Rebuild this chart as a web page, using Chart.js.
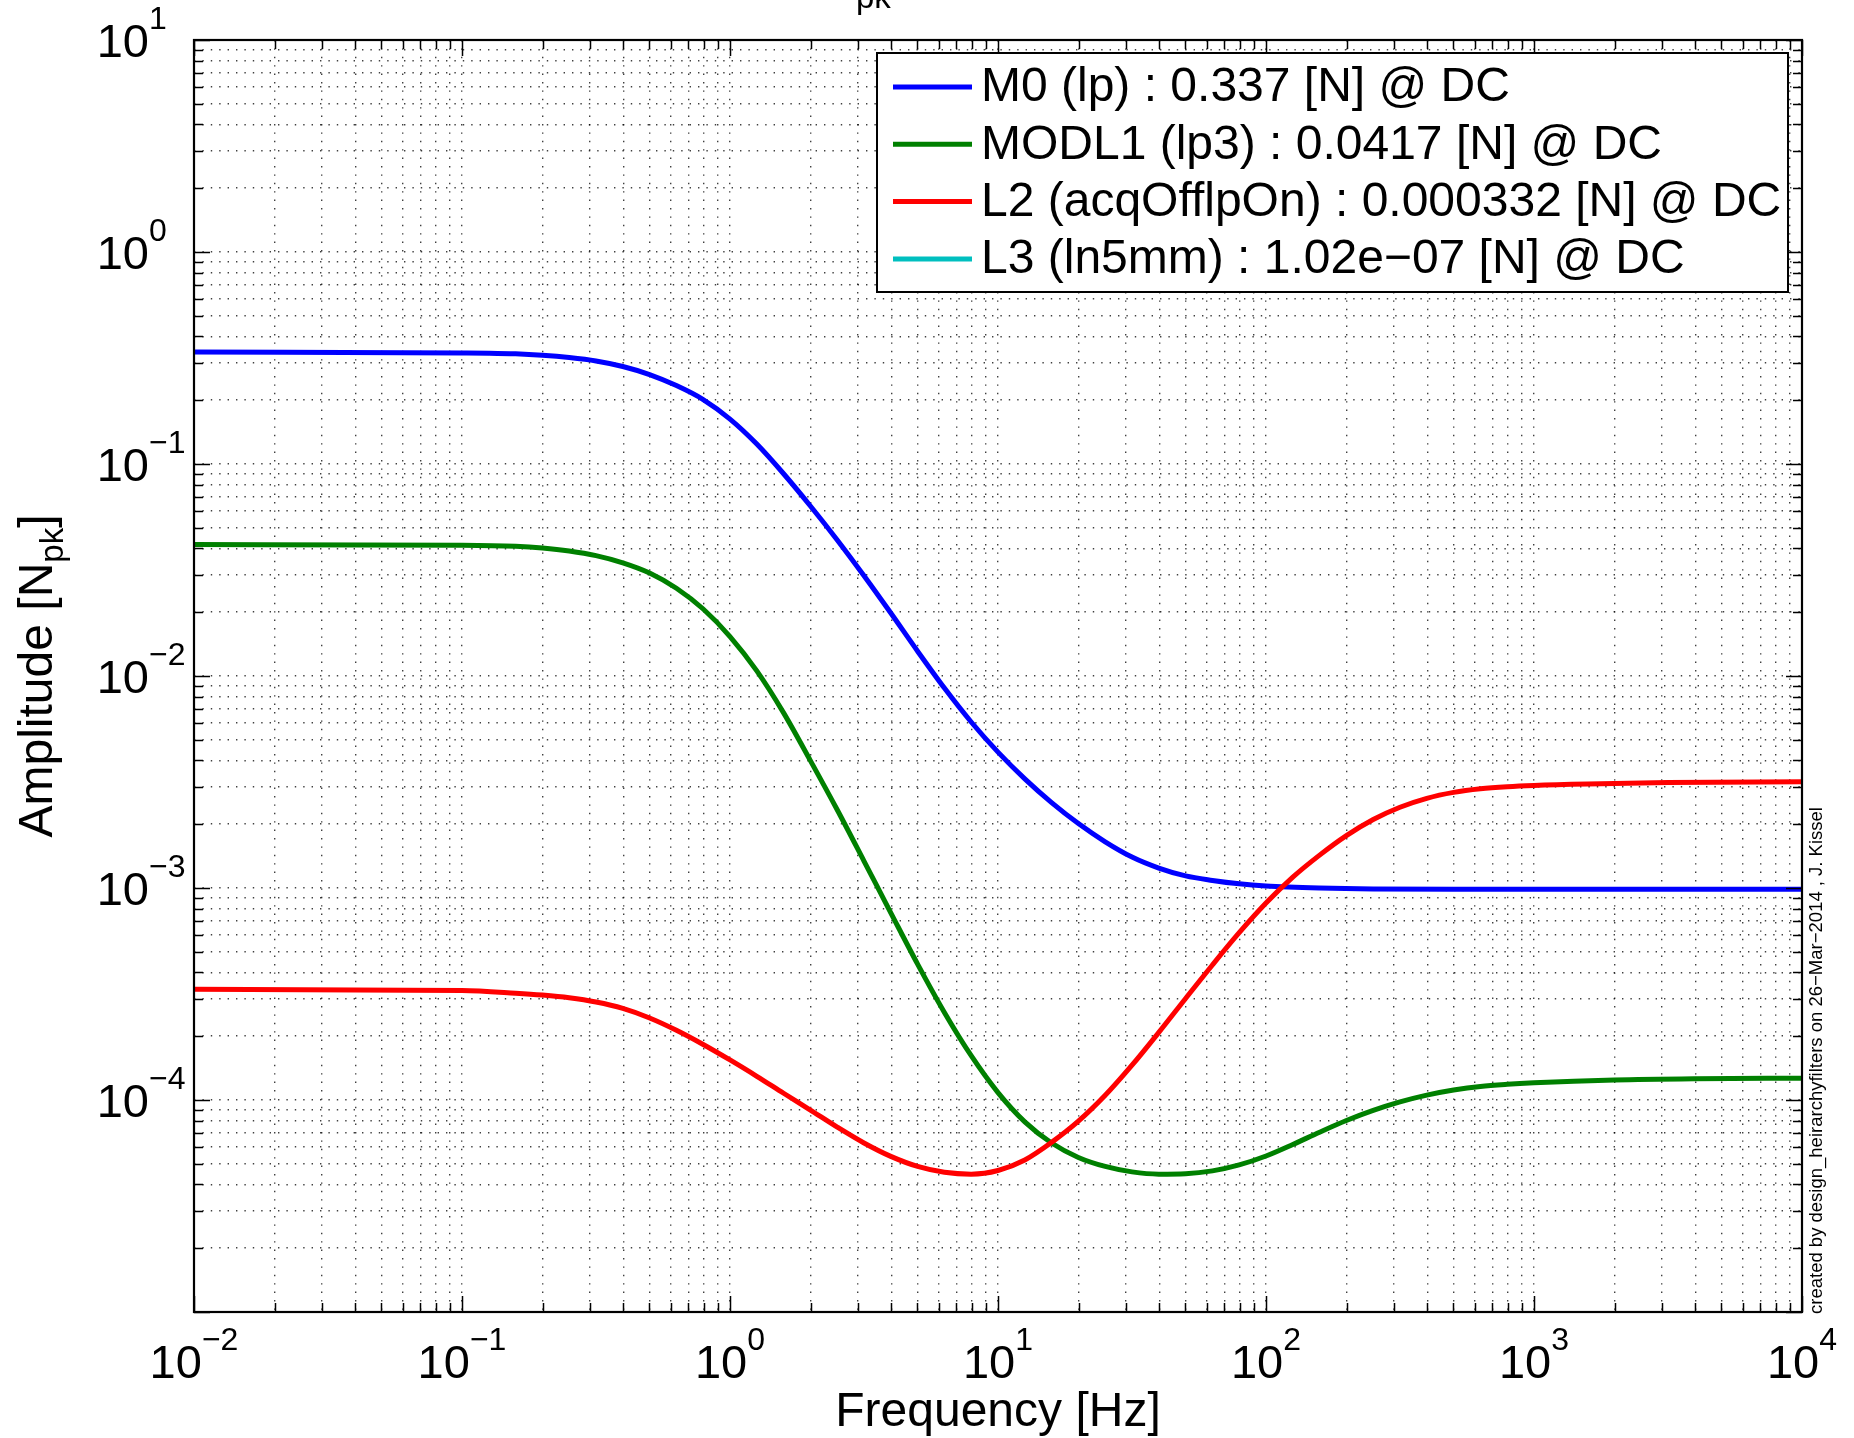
<!DOCTYPE html>
<html>
<head>
<meta charset="utf-8">
<script src="https://cdn.jsdelivr.net/npm/chart.js@4.4.1/dist/chart.umd.min.js"></script>
<style>
html,body{margin:0;padding:0;background:#fff;overflow:hidden}
#wrap{width:1854px;height:1438px;position:relative}
canvas{display:block}
</style>
</head>
<body>
<div id="wrap"><canvas id="c" width="1854" height="1438" style="width:1854px;height:1438px"></canvas></div>
<script>
// ---------------- data ----------------
const seriesLabels = [
  'M0 (lp) : 0.337 [N] @ DC',
  'MODL1 (lp3) : 0.0417 [N] @ DC',
  'L2 (acqOfflpOn) : 0.000332 [N] @ DC',
  'L3 (ln5mm) : 1.02e\u221207 [N] @ DC'
];
const seriesColors = ['#0000ff', '#008000', '#ff0000', '#00bfbf'];

const freqBlue = [0.01, 0.1, 0.1259, 0.1585, 0.1995, 0.2512, 0.3162, 0.3981, 0.5012, 0.631, 0.7943, 1, 1.259, 1.585, 1.995, 2.512, 3.162, 3.981, 5.012, 6.31, 7.943, 10, 12.59, 15.85, 19.95, 25.12, 31.62, 39.81, 50.12, 63.1, 79.43, 100, 158.5, 251.2, 501.2, 1000, 10000];
const ampBlue  = [0.3373, 0.3342, 0.3334, 0.3311, 0.3258, 0.3177, 0.3062, 0.2884, 0.2642, 0.2344, 0.2014, 0.1629, 0.1242, 0.08995, 0.06339, 0.04385, 0.02972, 0.01982, 0.01309, 0.00877, 0.006067, 0.004375, 0.003273, 0.002529, 0.002014, 0.001652, 0.0014, 0.001242, 0.00114, 0.001086, 0.001047, 0.001023, 0.001, 0.000989, 0.000986, 0.000986, 0.000986];

const freqGreen = [0.01, 0.1, 0.1585, 0.1995, 0.2512, 0.3162, 0.3981, 0.5012, 0.631, 0.7943, 1, 1.259, 1.585, 1.995, 2.512, 3.162, 3.981, 5.012, 6.31, 7.943, 10, 12.59, 15.85, 19.95, 25.12, 31.62, 39.81, 50.12, 63.1, 79.43, 100, 125.9, 158.5, 199.5, 251.2, 316.2, 398.1, 501.2, 631, 794.3, 1000, 1995, 3981, 10000];
const ampGreen  = [0.04169, 0.0414, 0.04093, 0.04018, 0.0389, 0.03698, 0.0342, 0.03062, 0.02594, 0.0207, 0.01535, 0.01057, 0.006699, 0.00399, 0.002339, 0.00134, 0.0007638, 0.0004375, 0.0002588, 0.0001618, 0.0001084, 7.89e-5, 6.27e-5, 5.36e-5, 4.86e-5, 4.58e-5, 4.47e-5, 4.49e-5, 4.63e-5, 4.94e-5, 5.445e-5, 6.17e-5, 7.05e-5, 8.0e-5, 8.93e-5, 9.79e-5, 1.054e-4, 1.114e-4, 1.159e-4, 1.186e-4, 1.205e-4, 1.242e-4, 1.259e-4, 1.268e-4];

const freqRed = [0.01, 0.1, 0.1585, 0.1995, 0.2512, 0.3162, 0.3981, 0.5012, 0.631, 0.7943, 1, 1.259, 1.585, 1.995, 2.512, 3.162, 3.981, 5.012, 6.31, 7.943, 10, 12.59, 15.85, 19.95, 25.12, 31.62, 39.81, 50.12, 63.1, 79.43, 100, 125.9, 158.5, 199.5, 251.2, 316.2, 398.1, 501.2, 631, 794.3, 1000, 1585, 3162, 10000];
const ampRed  = [3.327e-4, 3.289e-4, 3.192e-4, 3.126e-4, 3.034e-4, 2.897e-4, 2.704e-4, 2.438e-4, 2.133e-4, 1.828e-4, 1.545e-4, 1.294e-4, 1.076e-4, 8.97e-5, 7.45e-5, 6.27e-5, 5.42e-5, 4.86e-5, 4.56e-5, 4.47e-5, 4.65e-5, 5.21e-5, 6.31e-5, 7.94e-5, 1.052e-4, 1.459e-4, 2.084e-4, 3.013e-4, 4.335e-4, 6.152e-4, 8.49e-4, 1.125e-3, 1.429e-3, 1.766e-3, 2.104e-3, 2.404e-3, 2.649e-3, 2.825e-3, 2.938e-3, 3.006e-3, 3.048e-3, 3.097e-3, 3.141e-3, 3.17e-3];

// L3 is far below the plotted range (DC value from legend)
const freqCyan = [0.01];
const ampCyan  = [1.02e-7];

const xTickExps = [-2, -1, 0, 1, 2, 3, 4];
const yTickExps = [-4, -3, -2, -1, 0, 1];
const minorMults = [1, 2, 3, 4, 5, 6, 7, 8, 9];
const xRange = [1e-2, 1e4];
const yRange = [1e-5, 1e1];

const xTitle = 'Frequency [Hz]';
const yTitleMain = 'Amplitude [N';
const yTitleSub = 'pk';
const yTitleEnd = ']';
const titleSub = 'pk';
const stampText = 'created by design_heirarchyfilters on 26\u2212Mar\u22122014 , J. Kissel';

// ---------------- helpers ----------------
const FONT = '"Liberation Sans", Arial, Helvetica, sans-serif';
const toPts = (xs, ys) => xs.map((x, i) => ({x: x, y: ys[i]}));
function logTicks(range) {
  const out = [];
  const e0 = Math.floor(Math.log10(range[0])), e1 = Math.ceil(Math.log10(range[1]));
  for (let e = e0; e <= e1; e++) {
    for (const m of minorMults) {
      const v = m * Math.pow(10, e);
      if (v >= range[0] * 0.999999 && v <= range[1] * 1.000001) out.push({value: v});
    }
  }
  return out;
}
const isDecade = v => Math.abs(Math.log10(v) - Math.round(Math.log10(v))) < 1e-6;

// draws "10" + superscript; mode 'center' centers the whole group on x,
// mode 'base' puts the right edge of "10" at x.
function drawPow(ctx, exp, x, y, mode) {
  const base = '10';
  const sup = exp < 0 ? '\u2212' + Math.abs(exp) : String(exp);
  ctx.font = '47px ' + FONT;
  const wb = ctx.measureText(base).width;
  ctx.font = '32px ' + FONT;
  const ws = ctx.measureText(sup).width;
  const left = mode === 'center' ? x - (wb + ws) / 2 : x - wb;
  ctx.textAlign = 'left';
  ctx.textBaseline = 'alphabetic';
  ctx.fillStyle = '#000';
  ctx.font = '47px ' + FONT;
  ctx.fillText(base, left, y);
  ctx.font = '32px ' + FONT;
  ctx.fillText(sup, left + wb, y - 28);
}

// ---------------- plugin: axes box, ticks, labels, legend ----------------
const matlabAxes = {
  id: 'matlabAxes',
  afterDatasetsDraw(chart) {
    const ctx = chart.ctx;
    const xs = chart.scales.x, ys = chart.scales.y;
    const {left, right, top, bottom} = chart.chartArea;
    ctx.save();
    // inner tick marks on all four sides
    ctx.strokeStyle = '#000';
    ctx.lineWidth = 1.5;
    ctx.beginPath();
    xs.ticks.forEach(t => {
      const px = Math.round(xs.getPixelForValue(t.value)) + 0.5;
      const L = isDecade(t.value) ? 16 : 9;
      ctx.moveTo(px, bottom); ctx.lineTo(px, bottom - L);
      ctx.moveTo(px, top); ctx.lineTo(px, top + L);
    });
    ys.ticks.forEach(t => {
      const py = Math.round(ys.getPixelForValue(t.value)) + 0.5;
      const L = isDecade(t.value) ? 16 : 9;
      ctx.moveTo(left, py); ctx.lineTo(left + L, py);
      ctx.moveTo(right, py); ctx.lineTo(right - L, py);
    });
    ctx.stroke();
    // box
    ctx.lineWidth = 2.2;
    ctx.strokeRect(left, top, right - left, bottom - top);

    // tick labels
    xTickExps.forEach(e => {
      const px = xs.getPixelForValue(Math.pow(10, e));
      drawPow(ctx, e, px, bottom + 66, 'center');
    });
    yTickExps.forEach(e => {
      const py = ys.getPixelForValue(Math.pow(10, e));
      drawPow(ctx, e, left - 45, py + 17, 'base');
    });

    // x title
    ctx.fillStyle = '#000';
    ctx.font = '48px ' + FONT;
    ctx.textAlign = 'center';
    ctx.textBaseline = 'alphabetic';
    ctx.fillText(xTitle, (left + right) / 2, bottom + 114);

    // y title (rotated)
    ctx.save();
    ctx.translate(52, (top + bottom) / 2);
    ctx.rotate(-Math.PI / 2);
    ctx.textAlign = 'left';
    ctx.font = '48px ' + FONT;
    const w1 = ctx.measureText(yTitleMain).width;
    const w3 = ctx.measureText(yTitleEnd).width;
    ctx.font = '33px ' + FONT;
    const w2 = ctx.measureText(yTitleSub).width;
    const sx = -(w1 + w2 + w3) / 2;
    ctx.font = '48px ' + FONT;
    ctx.fillText(yTitleMain, sx, 0);
    ctx.font = '33px ' + FONT;
    ctx.fillText(yTitleSub, sx + w1, 11);
    ctx.font = '48px ' + FONT;
    ctx.fillText(yTitleEnd, sx + w1 + w2, 0);
    ctx.restore();

    // title fragment (subscript of a title cut off at the top edge)
    ctx.font = '33px ' + FONT;
    ctx.textAlign = 'left';
    ctx.fillText(titleSub, 856, 8);

    // stamp text at right
    ctx.save();
    ctx.translate(right + 20, bottom + 2);
    ctx.rotate(-Math.PI / 2);
    ctx.font = '18.5px ' + FONT;
    ctx.textAlign = 'left';
    ctx.fillText(stampText, 0, 0);
    ctx.restore();

    // legend
    const bw = 911, bh = 239;
    const bx = right - 14 - bw, by = top + 13;
    ctx.fillStyle = '#fff';
    ctx.fillRect(bx, by, bw, bh);
    ctx.strokeStyle = '#000';
    ctx.lineWidth = 2;
    ctx.strokeRect(bx, by, bw, bh);
    chart.data.datasets.forEach((ds, i) => {
      const ry = by + 34 + i * 57.3;
      ctx.strokeStyle = ds.borderColor;
      ctx.lineWidth = 5;
      ctx.beginPath();
      ctx.moveTo(bx + 16, ry); ctx.lineTo(bx + 95, ry);
      ctx.stroke();
      ctx.fillStyle = '#000';
      ctx.font = '48px ' + FONT;
      ctx.textAlign = 'left';
      ctx.textBaseline = 'middle';
      ctx.fillText(ds.label, bx + 104, ry + 1);
    });
    ctx.restore();
  }
};

// ---------------- chart ----------------
const mk = (i, xs, ys, order) => ({
  label: seriesLabels[i],
  data: toPts(xs, ys),
  borderColor: seriesColors[i],
  backgroundColor: seriesColors[i],
  borderWidth: 5,
  pointRadius: 0,
  fill: false,
  cubicInterpolationMode: 'monotone',
  order: order
});

const gridOpts = {
  display: true,
  drawTicks: false,
  drawOnChartArea: true,
  color: 'rgba(0,0,0,0.75)',
  lineWidth: 1.4
};

new Chart(document.getElementById('c'), {
  type: 'line',
  data: {
    datasets: [
      mk(0, freqBlue, ampBlue, 3),
      mk(1, freqGreen, ampGreen, 2),
      mk(2, freqRed, ampRed, 1),
      mk(3, freqCyan, ampCyan, 0)
    ]
  },
  options: {
    responsive: false,
    animation: false,
    layout: {padding: {left: 194, top: 40, right: 52, bottom: 126}},
    plugins: {legend: {display: false}, tooltip: {enabled: false}, title: {display: false}},
    scales: {
      x: {
        type: 'logarithmic',
        min: xRange[0], max: xRange[1],
        afterBuildTicks: s => { s.ticks = logTicks(xRange); },
        ticks: {display: false},
        grid: gridOpts,
        border: {display: false, dash: [1.4, 7]}
      },
      y: {
        type: 'logarithmic',
        min: yRange[0], max: yRange[1],
        afterBuildTicks: s => { s.ticks = logTicks(yRange); },
        ticks: {display: false},
        grid: gridOpts,
        border: {display: false, dash: [1.4, 7]}
      }
    }
  },
  plugins: [matlabAxes]
});
</script>
</body>
</html>
